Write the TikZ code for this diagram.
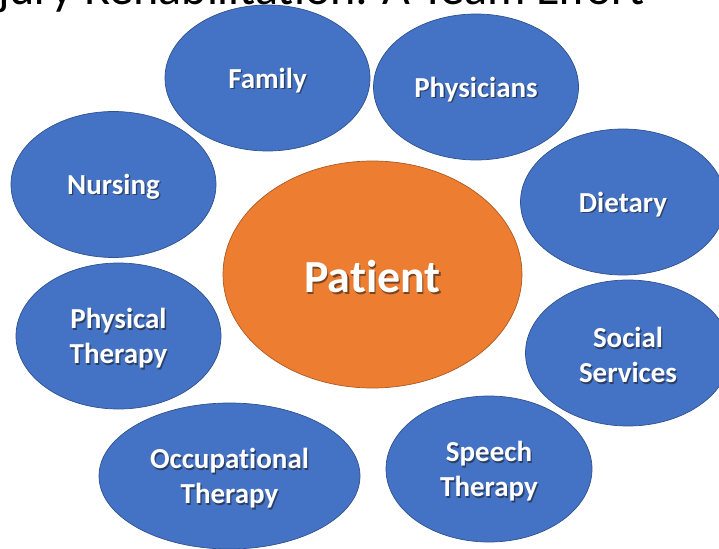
\documentclass[tikz,border=0pt]{standalone}
\usepackage{fontspec}
\setmainfont{Carlito}[Ligatures=NoCommon]
\usetikzlibrary{shapes.geometric}
\definecolor{bluefill}{HTML}{4472C4}
\definecolor{blueline}{HTML}{2F528F}
\definecolor{orangefill}{HTML}{ED7D31}
\definecolor{orangeline}{HTML}{AE5A21}
\definecolor{shadowb}{HTML}{2A3F66}
\definecolor{shadowo}{HTML}{7A4420}
\newcommand{\shtxt}[2][shadowb]{\raisebox{-3pt}[\height][\depth]{\makebox[0pt][l]{\hspace{1.3pt}\raisebox{-1.3pt}{\color{#1}#2}}#2}}
\tikzset{
  team/.style={ellipse, draw=blueline, line width=0.7pt, fill=bluefill, inner sep=0pt,
    minimum width=205pt, minimum height=146pt, text=white, align=center,
    font=\fontsize{29}{35}\selectfont\bfseries},
  patientbox/.style={ellipse, draw=orangeline, line width=0.7pt, fill=orangefill, inner sep=0pt,
    minimum width=299pt, minimum height=227pt, text=white,
    font=\fontsize{46}{55}\selectfont\bfseries},
  titletext/.style={anchor=base west, inner sep=0pt, font=\fontsize{48}{56}\selectfont, text=black}
}
\begin{document}
\begin{tikzpicture}[x=1pt,y=-1pt]
\useasboundingbox (0,0) rectangle (719,548);
\clip (0,0) rectangle (719,548);
\node[titletext] (title) at (-2,4.5) {jury Rehabilitation: A Team Effort};
\node[patientbox] (patient) at (372.5,274.5) {\shtxt[shadowo]{Patient}};
\node[team] (family) at (267.5,78) {\shtxt{Family}};
\node[team] (physicians) at (476,87) {\shtxt{Physicians}};
\node[team] (nursing) at (113.5,184.5) {\shtxt{Nursing}};
\node[team] (dietary) at (623,202) {\shtxt{Dietary}};
\node[team] (physical) at (118.5,336) {\shtxt{Physical}\\\shtxt{Therapy}};
\node[team] (social) at (628,353) {\shtxt{Social}\\\shtxt{Services}};
\node[team, minimum width=261pt] (occupational) at (229.5,476) {\shtxt{Occupational}\\\shtxt{Therapy}};
\node[team, minimum width=206pt] (speech) at (489,469) {\shtxt{Speech}\\\shtxt{Therapy}};
\end{tikzpicture}
\end{document}
